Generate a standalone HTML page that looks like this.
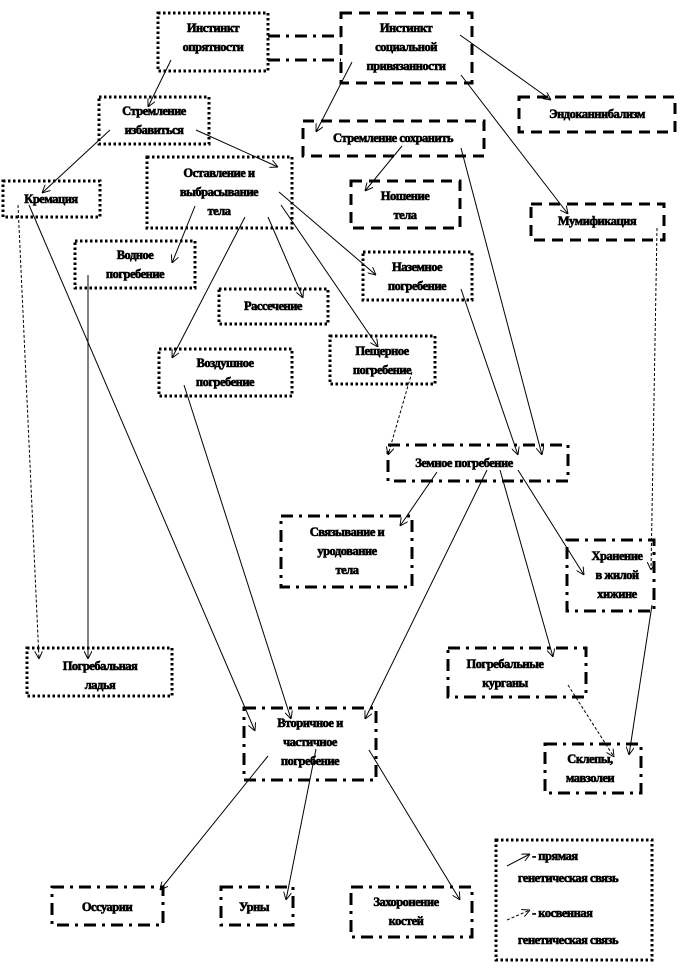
<!DOCTYPE html>
<html><head><meta charset="utf-8"><style>
html,body{margin:0;padding:0;background:#fff}
svg{display:block}
text{font-family:"Liberation Serif","DejaVu Serif",serif;font-weight:bold;font-size:12.5px;letter-spacing:-0.5px;fill:#000;stroke:#000;stroke-width:0.6;text-anchor:middle}
.d{fill:none;stroke:#000;stroke-width:3;stroke-dasharray:2.5 2.5}
.s{fill:none;stroke:#000;stroke-width:3;stroke-dasharray:11 7}
.c{fill:none;stroke:#000;stroke-width:3;stroke-dasharray:12 6 3 6}
.l{stroke:#000;stroke-width:1;fill:none;marker-end:url(#a)}
.ld{stroke:#000;stroke-width:1;fill:none;stroke-dasharray:3 2;marker-end:url(#a)}
</style></head><body>
<svg width="680" height="972" viewBox="0 0 680 972" xmlns="http://www.w3.org/2000/svg">
<defs><marker id="a" viewBox="0 0 10 10" refX="10" refY="5" markerWidth="8" markerHeight="8" orient="auto" markerUnits="userSpaceOnUse"><path d="M0,0 L10,5 L0,10" fill="none" stroke="#000" stroke-width="1.2"/></marker></defs>

<rect class="d" x="158" y="13" width="110" height="58"/>
<text x="213" y="32">Инстинкт</text><text x="213" y="51">опрятности</text>
<rect class="s" x="341" y="13" width="131" height="70"/>
<text x="406" y="32">Инстинкт</text><text x="406" y="51">социальной</text><text x="406" y="70">привязанности</text>
<line x1="268" y1="36" x2="341" y2="36" class="c" stroke-width="2.5"/>
<line x1="268" y1="60" x2="341" y2="60" class="c" stroke-width="2.5"/>

<rect class="d" x="99" y="97" width="110" height="47"/>
<text x="154" y="115">Стремление</text><text x="154" y="134">избавиться</text>
<rect class="s" x="303" y="121" width="181" height="35"/>
<text x="393" y="142">Стремление сохранить</text>
<rect class="s" x="519" y="97" width="156" height="35"/>
<text x="597" y="118">Эндоканнибализм</text>

<rect class="d" x="3" y="181" width="97" height="36"/>
<text x="51" y="203">Кремация</text>
<rect class="d" x="147" y="157" width="145" height="71"/>
<text x="219" y="177">Оставление и</text><text x="219" y="196">выбрасывание</text><text x="219" y="215">тела</text>
<rect class="s" x="351" y="181" width="109" height="47"/>
<text x="405" y="200">Ношение</text><text x="405" y="219">тела</text>
<rect class="s" x="531" y="204" width="133" height="36"/>
<text x="597" y="225">Мумификация</text>

<rect class="d" x="75" y="241" width="120" height="47"/>
<text x="135" y="259">Водное</text><text x="135" y="278">погребение</text>
<rect class="d" x="363" y="252" width="109" height="48"/>
<text x="417" y="271">Наземное</text><text x="417" y="290">погребение</text>
<rect class="d" x="219" y="289" width="109" height="35"/>
<text x="273" y="310">Рассечение</text>

<rect class="d" x="159" y="349" width="133" height="47"/>
<text x="225" y="367">Воздушное</text><text x="225" y="386">погребение</text>
<rect class="d" x="330" y="336" width="105" height="48"/>
<text x="382" y="355">Пещерное</text><text x="382" y="374">погребение</text>

<rect class="c" x="388" y="445" width="180" height="36"/>
<text x="464" y="467">Земное погребение</text>
<rect class="c" x="281" y="516" width="131" height="71"/>
<text x="347" y="536">Связывание и</text><text x="347" y="555">уродование</text><text x="347" y="574">тела</text>
<rect class="c" x="567" y="540" width="87" height="71"/>
<text x="617" y="560">Хранение</text><text x="617" y="579">в жилой</text><text x="617" y="598">хижине</text>

<rect class="d" x="27" y="648" width="145" height="48"/>
<text x="100" y="670">Погребальная</text><text x="100" y="689">ладья</text>
<rect class="c" x="448" y="648" width="138" height="49"/>
<text x="505" y="668">Погребальные</text><text x="505" y="687">курганы</text>

<rect class="c" x="244" y="708" width="132" height="72"/>
<text x="310" y="727">Вторичное и</text><text x="310" y="746">частичное</text><text x="310" y="765">погребение</text>
<rect class="c" x="545" y="744" width="96" height="49"/>
<text x="590" y="763">Склепы,</text><text x="590" y="782">мавзолеи</text>

<rect class="c" x="52" y="887" width="111" height="38"/>
<text x="107" y="911">Оссуарии</text>
<rect class="c" x="221" y="887" width="72" height="38"/>
<text x="254" y="911">Урны</text>
<rect class="c" x="351" y="887" width="121" height="50"/>
<text x="406" y="906">Захоронение</text><text x="406" y="925">костей</text>

<rect class="d" x="496" y="840" width="156" height="120"/>
<line class="l" x1="507" y1="866" x2="530" y2="854"/>
<text x="532" y="860" style="text-anchor:start">- прямая</text>
<text x="568" y="882">генетическая связь</text>
<line class="ld" x1="507" y1="920" x2="530" y2="910"/>
<text x="532" y="917" style="text-anchor:start">- косвенная</text>
<text x="568" y="944">генетическая связь</text>

<line class="l" x1="171" y1="60" x2="148" y2="107"/>
<line class="l" x1="352" y1="62" x2="316" y2="132"/>
<line class="l" x1="460" y1="35" x2="551" y2="100"/>
<line class="l" x1="461" y1="75" x2="568" y2="214"/>
<line class="l" x1="110" y1="130" x2="42" y2="193"/>
<line class="l" x1="196" y1="130" x2="278" y2="167"/>
<line class="l" x1="402" y1="146" x2="365" y2="191"/>
<line class="l" x1="461" y1="148" x2="542" y2="455"/>
<line class="l" x1="461" y1="289" x2="518" y2="455"/>
<line class="l" x1="195" y1="206" x2="172" y2="263"/>
<line class="l" x1="245" y1="217" x2="172" y2="358"/>
<line class="l" x1="268" y1="217" x2="303" y2="298"/>
<line class="l" x1="279" y1="192" x2="376" y2="275"/>
<line class="l" x1="281" y1="205" x2="378" y2="347"/>
<line class="ld" x1="18" y1="205" x2="39" y2="659"/>
<line class="l" x1="88" y1="275" x2="88" y2="659" stroke="#555" stroke-width="1.5"/>
<line class="l" x1="29" y1="205" x2="255" y2="731"/>
<line class="l" x1="184" y1="385" x2="291" y2="719"/>
<line class="ld" x1="412" y1="372" x2="388" y2="455"/>
<line class="ld" x1="657" y1="228" x2="651" y2="570"/>
<line class="l" x1="437" y1="472" x2="400" y2="526"/>
<line class="l" x1="487" y1="470" x2="365" y2="719"/>
<line class="l" x1="500" y1="470" x2="553" y2="657"/>
<line class="l" x1="518" y1="470" x2="584" y2="575"/>
<line class="l" x1="652" y1="605" x2="629" y2="755"/>
<line class="ld" x1="568" y1="685" x2="614" y2="757"/>
<line class="l" x1="268" y1="756" x2="160" y2="890"/>
<line class="l" x1="316" y1="749" x2="286" y2="900"/>
<line class="l" x1="369" y1="750" x2="460" y2="900"/>
</svg>
</body></html>
